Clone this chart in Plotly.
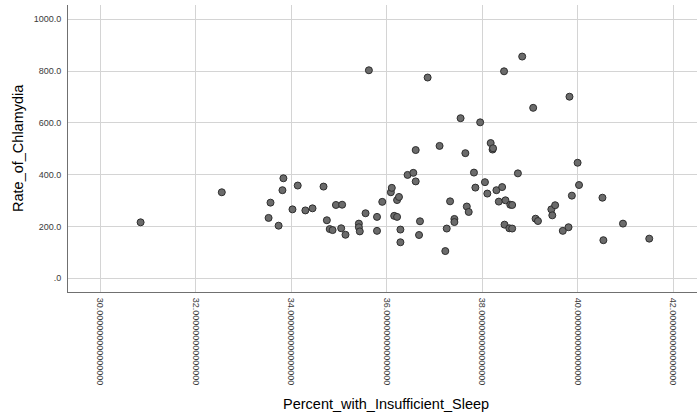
import plotly.graph_objects as go

sleep_pct = [30.85, 32.55, 33.53, 33.57, 33.74, 33.82, 33.84, 34.03, 34.14, 34.30,
             34.45, 34.68, 34.75, 34.81, 34.87, 34.94, 35.05, 35.07, 35.14,
             35.42, 35.42, 35.44, 35.56, 35.63, 35.80, 35.80, 35.91, 36.09, 36.11,
             36.16, 36.22, 36.22, 36.26, 36.29, 36.29, 36.44, 36.56, 36.61, 36.61,
             36.70, 36.68, 36.86, 37.11, 37.23, 37.26, 37.33, 37.42, 37.42, 37.55,
             37.65, 37.68, 37.72, 37.83, 37.86, 37.96, 38.06, 38.11, 38.18, 38.22,
             38.23, 38.30, 38.35, 38.42, 38.46, 38.47, 38.49, 38.59, 38.63, 38.57,
             38.63, 38.75, 38.84, 39.07, 39.12, 39.17, 39.45, 39.53, 39.47, 39.69,
             39.81, 39.83, 39.88, 40.00, 40.03, 40.52, 40.54, 40.95, 41.50]
chlamydia_rate = [216, 332, 233, 292, 203, 340, 386, 266, 358, 262,
                  270, 354, 224, 190, 186, 283, 193, 284, 168,
                  211, 197, 181, 251, 803, 237, 183, 295, 332, 349,
                  241, 237, 302, 314, 188, 139, 399, 407, 495, 374,
                  220, 167, 775, 511, 105, 192, 297, 229, 217, 618,
                  483, 277, 256, 408, 350, 602, 371, 327, 522, 497,
                  502, 340, 296, 352, 799, 207, 301, 284, 283, 193,
                  192, 405, 856, 658, 230, 221, 266, 282, 243, 183,
                  197, 701, 319, 446, 360, 311, 147, 211, 153]

x_ticks = [30, 32, 34, 36, 38, 40, 42]
x_tick_labels = ["30.000000000000000", "32.000000000000000", "34.000000000000000",
                 "36.000000000000000", "38.000000000000000", "40.000000000000000",
                 "42.000000000000000"]
y_ticks = [0, 200, 400, 600, 800, 1000]
y_tick_labels = [".0", "200.0", "400.0", "600.0", "800.0", "1000.0"]

fig = go.Figure()
fig.add_trace(go.Scatter(
    x=sleep_pct, y=chlamydia_rate, mode="markers",
    marker=dict(size=7, color="#6b6b6b", line=dict(color="#2e2e2e", width=1)),
    showlegend=False, cliponaxis=False,
))

font_family = "Liberation Sans, Arial, sans-serif"
fig.update_layout(
    width=697, height=412,
    margin=dict(l=68, r=0, t=5, b=120),
    plot_bgcolor="white", paper_bgcolor="white",
    font=dict(family=font_family, color="#333333"),
    xaxis=dict(
        range=[29.33, 42.5], tickvals=x_ticks, ticktext=x_tick_labels,
        tickangle=90, tickfont=dict(size=9, color="#3a3a3a"),
        showgrid=True, gridcolor="#d4d4d4", gridwidth=1, zeroline=False,
        showline=True, linecolor="#707070", linewidth=1,
        ticks="", ticklabelstandoff=3, automargin=False,
    ),
    yaxis=dict(
        range=[-53, 1055], tickvals=y_ticks, ticktext=y_tick_labels,
        tickfont=dict(size=9, color="#3a3a3a"),
        showgrid=True, gridcolor="#d4d4d4", gridwidth=1, zeroline=False,
        showline=True, linecolor="#707070", linewidth=1,
        ticks="", ticklabelstandoff=4, automargin=False,
    ),
    annotations=[
        dict(text="Percent_with_Insufficient_Sleep", xref="paper", yref="paper",
             x=(386 - 68) / 629, y=-(394 - 292) / 287, xanchor="center", yanchor="top",
             showarrow=False, font=dict(size=14.5, color="#000000", family=font_family)),
        dict(text="Rate_of_Chlamydia", xref="paper", yref="paper",
             x=-(68 - 18) / 629, y=(292 - 148) / 287, xanchor="center", yanchor="middle",
             textangle=-90, showarrow=False,
             font=dict(size=14.5, color="#000000", family=font_family)),
    ],
)

fig.write_html("out.html", config={"displayModeBar": False})

# remove the browser's default page margin so the figure sits at the top-left corner
with open("out.html", "r", encoding="utf-8") as fh:
    page = fh.read()
page = page.replace("<head>", "<head><style>html,body{margin:0;padding:0;overflow:hidden;}</style>", 1)
with open("out.html", "w", encoding="utf-8") as fh:
    fh.write(page)
